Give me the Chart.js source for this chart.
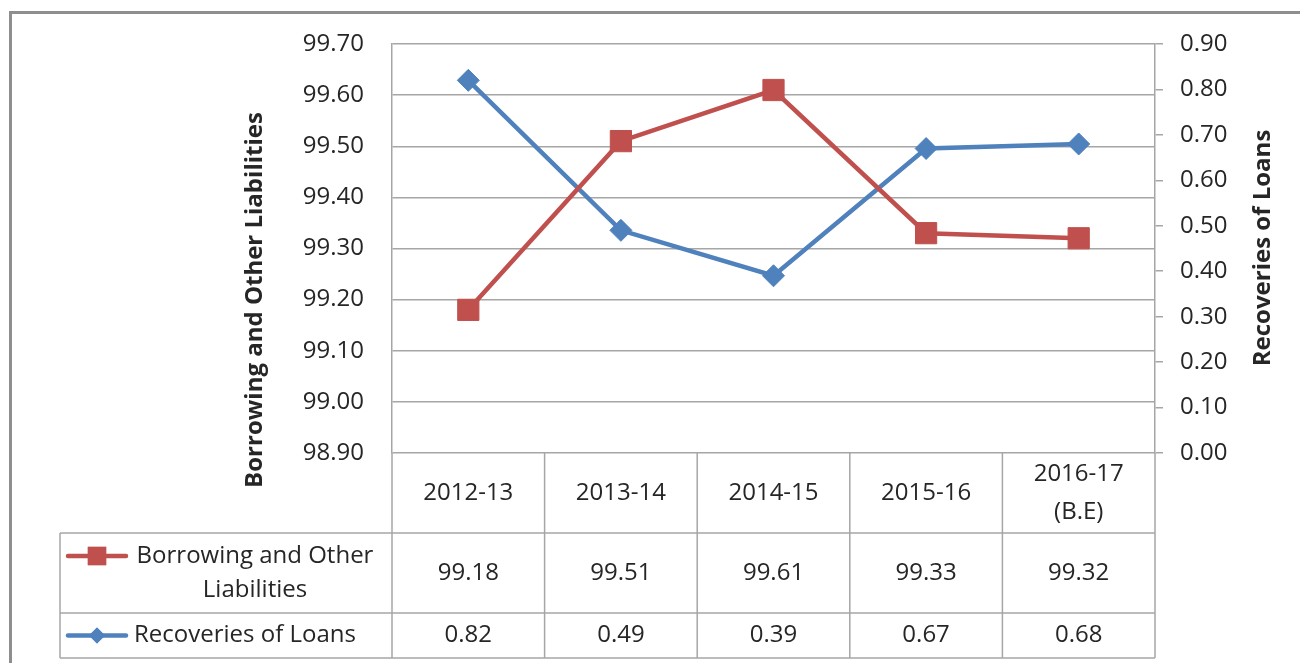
<!DOCTYPE html>
<html>
<head>
<meta charset="utf-8">
<title>Borrowing and Recoveries</title>
<script src="https://cdn.jsdelivr.net/npm/chart.js@4/dist/chart.umd.min.js"></script>
<style>
  html, body { margin: 0; padding: 0; background: #fff; }
  #wrap { position: relative; width: 1300px; height: 663px; }
</style>
</head>
<body>
<div id="wrap"><canvas id="myChart" width="1300" height="663"></canvas></div>
<script>
// data
var years = [['2012-13'], ['2013-14'], ['2014-15'], ['2015-16'], ['2016-17', '(B.E)']];
var borrowing = [99.18, 99.51, 99.61, 99.33, 99.32];
var recoveries = [0.82, 0.49, 0.39, 0.67, 0.68];
var borrowingLabel = ['Borrowing and Other', 'Liabilities'];
var recoveriesLabel = ['Recoveries of Loans'];
var leftTitle = 'Borrowing and Other Liabilities';
var rightTitle = 'Recoveries of Loans';

var RED = '#c0504d';
var BLUE = '#4f81bd';
var GRID = '#a6a6a6';
var TEXT = '#262626';
var FONT = '"Open Sans", "Noto Sans", sans-serif';

// draws the frame, the rotated axis titles and the data table under the plot
var tablePlugin = {
  id: 'dataTable',
  afterDraw: function (chart) {
    var ctx = chart.ctx;
    var x = chart.scales.x;
    var area = chart.chartArea;
    var half = (x.getPixelForValue(1) - x.getPixelForValue(0)) / 2;
    var top = area.bottom, row1 = top + 80, row2 = row1 + 80, bottom = row2 + 45;
    var legendLeft = 60;

    ctx.save();
    // outer frame
    ctx.strokeStyle = '#8e8e8e';
    ctx.lineWidth = 3;
    ctx.beginPath();
    ctx.moveTo(10.5, 663); ctx.lineTo(10.5, 12.5); ctx.lineTo(1300, 12.5);
    ctx.stroke();

    // table lines
    ctx.strokeStyle = GRID;
    ctx.lineWidth = 1.5;
    ctx.beginPath();
    [row1, row2, bottom].forEach(function (y) {
      ctx.moveTo(legendLeft, y); ctx.lineTo(area.right, y);
    });
    ctx.moveTo(legendLeft, row1); ctx.lineTo(legendLeft, bottom);
    for (var i = 0; i <= years.length; i++) {
      var bx = x.getPixelForValue(i) - half;
      ctx.moveTo(bx, top); ctx.lineTo(bx, bottom);
    }
    ctx.stroke();

    // cell texts
    ctx.fillStyle = TEXT;
    ctx.textAlign = 'center';
    ctx.textBaseline = 'middle';
    ctx.font = '24px ' + FONT;
    years.forEach(function (lines, i) {
      var cx = x.getPixelForValue(i);
      var start = (top + row1) / 2 - (lines.length - 1) * 19;
      lines.forEach(function (t, k) { ctx.fillText(t, cx, start + k * 38); });
      ctx.fillText(borrowing[i].toFixed(2), cx, (row1 + row2) / 2);
      ctx.fillText(recoveries[i].toFixed(2), cx, (row2 + bottom) / 2);
    });

    // legend keys
    function key(y, color, style, radius) {
      ctx.strokeStyle = color;
      ctx.lineWidth = 4.5;
      ctx.lineCap = 'round';
      ctx.beginPath(); ctx.moveTo(68, y); ctx.lineTo(126, y); ctx.stroke();
      ctx.fillStyle = color;
      Chart.helpers.drawPoint(ctx, { pointStyle: style, radius: radius, borderWidth: 0 }, 97, y);
      ctx.fill();
    }
    key((row1 + row2) / 2 - 17, RED, 'rect', 13);
    key((row2 + bottom) / 2, BLUE, 'rectRot', 8);
    ctx.fillStyle = TEXT;
    ctx.font = '24px ' + FONT;
    ctx.fillText(borrowingLabel[0], 255, (row1 + row2) / 2 - 17);
    ctx.fillText(borrowingLabel[1], 255, (row1 + row2) / 2 + 17);
    ctx.fillText(recoveriesLabel[0], 245, (row2 + bottom) / 2);

    // axis titles, both reading bottom to top
    ctx.font = 'bold 24px ' + FONT;
    ctx.translate(255, 300);
    ctx.rotate(-Math.PI / 2);
    ctx.fillText(leftTitle, 0, 0);
    ctx.setTransform(1, 0, 0, 1, 0, 0);
    ctx.translate(1263, 248);
    ctx.rotate(-Math.PI / 2);
    ctx.fillText(rightTitle, 0, 0);
    ctx.restore();
  }
};

var ctx = document.getElementById('myChart');
var chart = new Chart(ctx, {
  type: 'line',
  data: {
    labels: years,
    datasets: [{
      label: borrowingLabel.join(' '),
      data: borrowing,
      yAxisID: 'y',
      borderColor: RED,
      backgroundColor: RED,
      borderWidth: 4.5,
      pointStyle: 'rect',
      pointRadius: 15,
      pointBorderWidth: 1,
      tension: 0
    }, {
      label: recoveriesLabel[0],
      data: recoveries,
      yAxisID: 'y1',
      borderColor: BLUE,
      backgroundColor: BLUE,
      borderWidth: 4.5,
      pointStyle: 'rectRot',
      pointRadius: 11,
      pointBorderWidth: 1,
      tension: 0
    }]
  },
  options: {
    responsive: false,
    animation: false,
    layout: { padding: { left: 0, right: 0, top: 44, bottom: 210 } },
    plugins: { legend: { display: false }, tooltip: { enabled: false } },
    scales: {
      x: {
        display: false,
        offset: true
      },
      y: {
        position: 'left',
        min: 98.9,
        max: 99.7,
        afterFit: function (s) { s.width = 392; },
        ticks: {
          stepSize: 0.1,
          padding: 28,
          color: TEXT,
          font: { family: FONT, size: 24 },
          callback: function (v) { return v.toFixed(2); }
        },
        grid: { color: GRID, lineWidth: 1.5, drawTicks: false },
        border: { color: GRID, width: 1.5 }
      },
      y1: {
        position: 'right',
        min: 0,
        max: 0.9,
        afterFit: function (s) { s.width = 145; },
        ticks: {
          stepSize: 0.1,
          padding: 17,
          color: TEXT,
          font: { family: FONT, size: 24 },
          callback: function (v) { return v.toFixed(2); }
        },
        grid: { color: GRID, lineWidth: 1.5, drawOnChartArea: false, tickLength: 8 },
        border: { color: GRID, width: 1.5 }
      }
    }
  },
  plugins: [tablePlugin]
});
</script>
</body>
</html>
